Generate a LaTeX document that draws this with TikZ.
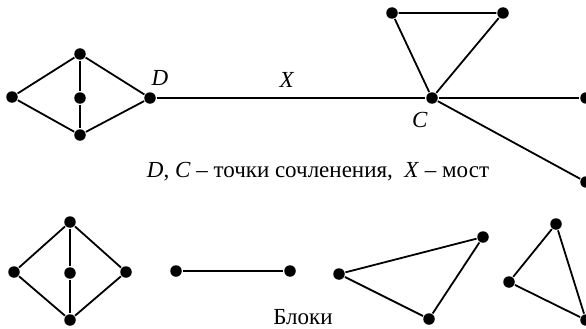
\documentclass[tikz,border=0pt]{standalone}
\usepackage{fontspec}
\setmainfont{Liberation Serif}
\usepackage{tikz}

\begin{document}
\begin{tikzpicture}[x=1pt, y=-1pt, line width=1.8pt,
    vtx/.style={circle, fill=black, inner sep=0pt, minimum size=11.5pt},
    lbl/.style={font=\fontsize{23}{26}\selectfont, anchor=base, inner sep=0pt}]
    \useasboundingbox (0,0) rectangle (586,329);
    % graph with cut vertices
    \node[vtx] (a1) at (12,97) {};
    \node[vtx] (a2) at (80,54) {};
    \node[vtx] (a3) at (80,98) {};
    \node[vtx] (a4) at (80,135) {};
    \node[vtx] (d) at (150,98) {};
    \node[vtx] (c) at (432,98) {};
    \node[vtx] (t1) at (392,13) {};
    \node[vtx] (t2) at (503,13) {};
    \node[vtx] (r1) at (586,98) {};
    \node[vtx] (r2) at (586,182) {};
    \draw (a1) -- (a2) -- (d) -- (a4) -- (a1);
    \draw (a2) -- (a3) -- (a4);
    \draw (d) -- (c) -- (r1);
    \draw (c) -- (r2);
    \draw (t1) -- (t2) -- (c) -- (t1);
    \node[lbl] (ld) at (160,85) {\textit{D}};
    \node[lbl] (lx) at (287,88) {\textit{X}};
    \node[lbl] (lc) at (420,127) {\textit{C}};
    \node[lbl] (cap1) at (318,177) {\textit{D}, \textit{C} – точки сочленения, \ \textit{X} – мост};
    % blocks
    \node[vtx] (b1) at (14,272) {};
    \node[vtx] (b2) at (70,222) {};
    \node[vtx] (b3) at (70,273) {};
    \node[vtx] (b4) at (126,272) {};
    \node[vtx] (b5) at (70,320) {};
    \draw (b1) -- (b2) -- (b4) -- (b5) -- (b1);
    \draw (b2) -- (b3) -- (b5);
    \node[vtx] (s1) at (176,271) {};
    \node[vtx] (s2) at (290,271) {};
    \draw (s1) -- (s2);
    \node[vtx] (p1) at (339,274) {};
    \node[vtx] (p2) at (483,237) {};
    \node[vtx] (p3) at (429,319) {};
    \draw (p1) -- (p2) -- (p3) -- (p1);
    \node[vtx] (q1) at (556,224) {};
    \node[vtx] (q2) at (509,282) {};
    \node[vtx] (q3) at (586,320) {};
    \draw (q1) -- (q3) -- (q2) -- (q1);
    \node[lbl] (cap2) at (303,324) {Блоки};
\end{tikzpicture}
\end{document}
